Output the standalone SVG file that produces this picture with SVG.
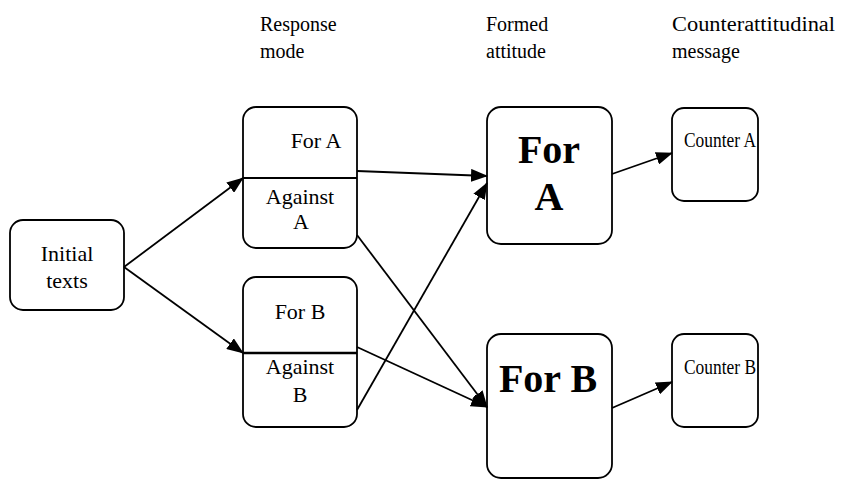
<svg xmlns="http://www.w3.org/2000/svg" width="841" height="480" viewBox="0 0 841 480">
<defs>
<style>
.box{fill:#fff;stroke:#000;stroke-width:1.8}
.t{font-family:"Liberation Serif","Times New Roman",serif;font-size:22px;fill:#000}
.h{font-family:"Liberation Serif","Times New Roman",serif;font-size:20px;fill:#000}
.b{font-family:"Liberation Serif","Times New Roman",serif;font-size:40px;font-weight:bold;fill:#000}
.c{stroke:#000;stroke-width:1.8;fill:none;marker-end:url(#ah)}
</style>
<marker id="ah" markerUnits="userSpaceOnUse" markerWidth="17" markerHeight="13" refX="16" refY="6.5" orient="auto">
<path d="M0,0 L17,6.5 L0,13 z" fill="#000"/>
</marker>
</defs>
<rect width="841" height="480" fill="#fff"/>
<g id="headers">
<text class="h" x="260" y="31">Response</text>
<text class="h" x="260" y="58">mode</text>
<text class="h" x="486" y="31">Formed</text>
<text class="h" x="486" y="58">attitude</text>
<text class="h" x="672" y="31" textLength="163" lengthAdjust="spacingAndGlyphs">Counterattitudinal</text>
<text class="h" x="672" y="58">message</text>
</g>
<g id="initial">
<rect class="box" x="10" y="220" width="114" height="90" rx="13"/>
<text class="t" x="67" y="261" text-anchor="middle">Initial</text>
<text class="t" x="67" y="288" text-anchor="middle">texts</text>
</g>
<g id="responseA">
<rect class="box" x="243" y="107" width="114" height="141" rx="13"/>
<line x1="243" y1="178" x2="357" y2="178" stroke="#000" stroke-width="2"/>
<text class="t" x="316" y="148" text-anchor="middle">For A</text>
<text class="t" x="300" y="204" text-anchor="middle">Against</text>
<text class="t" x="301" y="229" text-anchor="middle">A</text>
</g>
<g id="responseB">
<rect class="box" x="243" y="277" width="114" height="150" rx="13"/>
<line x1="243" y1="353" x2="357" y2="353" stroke="#000" stroke-width="2.6"/>
<text class="t" x="300" y="319" text-anchor="middle">For B</text>
<text class="t" x="300" y="374" text-anchor="middle">Against</text>
<text class="t" x="300" y="402" text-anchor="middle">B</text>
</g>
<g id="forA">
<rect class="box" x="487" y="107" width="125" height="137" rx="14"/>
<text class="b" x="549" y="163" text-anchor="middle">For</text>
<text class="b" x="549" y="210" text-anchor="middle">A</text>
</g>
<g id="forB">
<rect class="box" x="487" y="334" width="125" height="144" rx="14"/>
<text class="b" x="548" y="392" text-anchor="middle">For B</text>
</g>
<g id="counterA">
<rect class="box" x="672" y="108" width="86" height="93" rx="12"/>
<text class="h" x="684" y="147" textLength="72" lengthAdjust="spacingAndGlyphs">Counter A</text>
</g>
<g id="counterB">
<rect class="box" x="672" y="334" width="86" height="93" rx="12"/>
<text class="h" x="684" y="374" textLength="72" lengthAdjust="spacingAndGlyphs">Counter B</text>
</g>
<g id="connectors">
<line class="c" x1="124" y1="267" x2="243" y2="178"/>
<line class="c" x1="124" y1="267" x2="243" y2="353"/>
<line class="c" x1="357" y1="171" x2="487" y2="176"/>
<line class="c" x1="357" y1="235" x2="487" y2="407"/>
<line class="c" x1="357" y1="347" x2="487" y2="407"/>
<line class="c" x1="357" y1="410" x2="487" y2="183"/>
<line class="c" x1="612" y1="174" x2="672" y2="153"/>
<line class="c" x1="612" y1="408" x2="672" y2="382"/>
</g>
</svg>
